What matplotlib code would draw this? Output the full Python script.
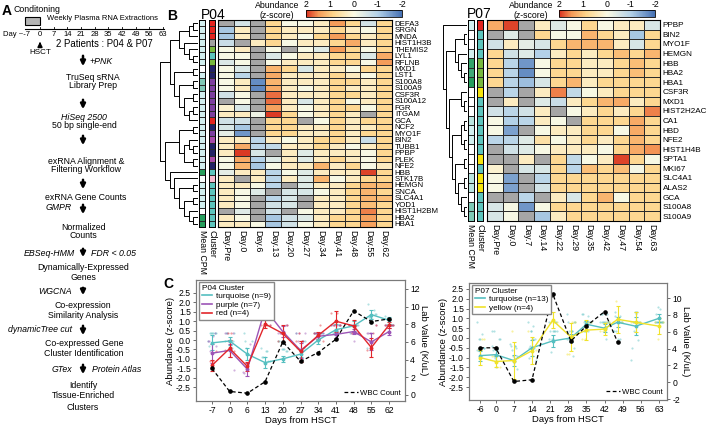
import numpy as np
import matplotlib
matplotlib.use('Agg')
import matplotlib.pyplot as plt
from matplotlib.colors import LinearSegmentedColormap, ListedColormap, Normalize
from matplotlib.cm import ScalarMappable
from matplotlib.lines import Line2D

plt.rcParams['font.family'] = ['Liberation Sans', 'DejaVu Sans']
plt.rcParams['axes.unicode_minus'] = False

nan = np.nan

# ---------------- data: panel B heatmaps ----------------
p04_cols = ['Day.Pre', 'Day.0', 'Day.6', 'Day.13', 'Day.20', 'Day.27',
            'Day.34', 'Day.41', 'Day.48', 'Day.55', 'Day.62']
p04_genes = ['DEFA3', 'SRGN', 'MNDA', 'HIST1H3B', 'THEMIS2', 'LYL1', 'RFLNB',
             'MXD1', 'LST1', 'S100A8', 'S100A9', 'CSF3R', 'S100A12', 'FGR',
             'ITGAM', 'GCA', 'NCF2', 'MYO1F', 'BIN2', 'TUBB1', 'PPBP', 'PLEK',
             'NFE2', 'HBB', 'STK17B', 'HEMGN', 'SNCA', 'SLC4A1', 'YOD1',
             'HIST1H2BM', 'HBA2', 'HBA1']
p04_z = [
    [nan, -0.55, nan, 0.8, -0.05, -0.05, 0.35, 1.45, 0.8, -0.55, 0.8],
    [-1.1, 0.35, nan, 0.8, 0.35, 0.35, 0.35, 0.8, 0.35, -0.05, 0.8],
    [-1.1, 0.35, nan, 0.8, 0.35, -0.05, 0.8, 1.45, 0.8, 0.35, 0.8],
    [-0.7, nan, 0.35, 0.8, -0.05, 0.35, 0.35, 0.8, 1.3, 0.35, 0.8],
    [-0.05, 0.35, nan, -0.05, nan, -0.05, -0.4, 1.45, 0.8, -0.05, 0.8],
    [-0.05, -0.05, nan, -0.45, -0.05, 0.35, 0.35, 0.8, 0.8, -0.45, 1.3],
    [-0.45, -0.05, nan, -0.05, 0.35, 0.35, 0.35, 0.8, 0.8, -0.05, 1.45],
    [-0.05, -0.45, nan, 1.2, 0.8, -0.5, 0.35, 0.35, -0.05, 0.8, 0.8],
    [-0.05, -0.9, nan, 1.3, 0.35, 0.35, 0.35, 0.8, 0.35, -0.05, 0.8],
    [-0.05, 0.35, -1.7, 1.2, 0.35, 0.35, 0.35, 0.8, 0.8, 0.35, 0.8],
    [-0.05, 0.35, -1.75, 1.3, 0.35, -0.05, 0.35, 0.8, 0.35, 0.35, 0.8],
    [-0.6, -0.05, nan, 1.7, 0.35, 0.35, 0.35, 0.8, 0.8, 0.35, 0.8],
    [nan, -0.05, nan, 1.7, 0.35, -0.5, 0.35, 0.8, -0.05, 0.35, 0.8],
    [0.2, -0.5, nan, 1.4, 0.35, -0.05, 0.35, 0.8, 0.8, -0.05, 0.8],
    [0.35, 0.35, -0.2, 1.95, 0.8, -0.05, 0.35, 0.8, 0.35, nan, 0.8],
    [-0.6, -0.6, nan, 0.8, 0.8, nan, -0.05, 0.8, 0.35, 0.8, 0.8],
    [-0.5, -1.1, nan, 0.8, 0.8, 0.35, 0.35, 0.8, 0.35, 0.35, 0.8],
    [-0.3, -1.6, nan, 0.8, 0.8, 0.35, 0.35, 0.8, 0.35, 0.8, 0.8],
    [0.35, 0.35, -0.9, 0.35, -0.05, 0.35, 0.8, 0.8, 0.35, -0.7, 0.8],
    [0.35, 1.3, -0.9, -0.8, 0.35, 0.35, 0.8, 0.35, -0.05, 0.35, 0.8],
    [0.35, 1.95, -0.5, nan, 0.35, -0.4, 0.35, 0.35, 0.35, -0.05, 0.8],
    [-0.05, 1.3, -1.0, -0.4, 0.35, -0.4, 0.35, 0.8, 0.35, -0.05, 0.8],
    [-0.05, 1.2, -1.1, -0.05, 0.35, 0.35, 1.2, 0.35, 0.8, -0.05, 0.35],
    [-0.3, 0.35, 0.35, -0.9, -0.05, -0.4, 0.35, 0.35, 0.35, 1.9, 0.8],
    [0.35, nan, 0.35, -0.9, 0.35, -0.4, 1.2, -0.05, 0.35, 0.8, 0.8],
    [0.35, 0.35, -0.05, -0.9, nan, -0.4, 0.35, 0.35, 0.8, 1.2, 1.1],
    [0.35, -0.05, -0.4, nan, -0.5, -0.5, -0.05, 0.35, 0.8, 1.2, 0.8],
    [0.35, -0.05, nan, -0.9, -0.5, nan, 0.35, 0.35, 0.8, 1.2, 1.1],
    [0.35, -0.05, nan, -0.6, -0.5, nan, 0.35, 0.35, 0.8, 1.1, 0.8],
    [nan, -0.4, nan, -0.6, nan, -0.05, 0.35, 0.35, 0.8, 1.6, 0.8],
    [0.35, -0.05, nan, -1.1, -0.6, -0.4, 0.35, 0.8, 0.8, 1.4, 0.8],
    [0.35, 0.35, -0.05, -1.1, -0.6, -0.05, 0.35, 0.8, 0.8, 1.4, 0.8],
]
p04_cpm = [0.3, 0.3, 0.3, 0.3, 0.3, 0.3, 0.3, 0.0, 0.3, 0.6, 0.6, 0.3, 0.3, 0.3,
           0.3, 0.3, 0.3, 0.3, 0.3, 0.3, 0.3, 0.3, 0.3, 0.95, 0.05, 0.3, 0.3,
           0.3, 0.3, 0.0, 0.95, 0.95]
p04_cluster = ['red', 'red', 'red', 'grey', 'green', 'turquoise', 'green',
               'midnightblue', 'midnightblue', 'purple', 'purple', 'purple',
               'purple', 'purple', 'purple', 'red', 'midnightblue', 'purple',
               'magenta', 'midnightblue', 'midnightblue', 'magenta',
               'midnightblue', 'turquoise', 'pink', 'turquoise', 'turquoise',
               'turquoise', 'turquoise', 'turquoise', 'turquoise', 'turquoise']
p04_tree = (((((0, 1), 2), (3, (4, (5, 6)))),
             ((7, 8), ((9, 10), ((11, 12), ((13, 14), 15))))),
            (((16, 17), ((18, (19, 20)), (21, 22))),
             (23, (24, ((25, 26), ((27, 28), (29, (30, 31))))))))

p07_cols = ['Day.Pre', 'Day.0', 'Day.7', 'Day.14', 'Day.22', 'Day.29',
            'Day.35', 'Day.42', 'Day.47', 'Day.54', 'Day.63']
p07_genes = ['PPBP', 'BIN2', 'MYO1F', 'HEMGN', 'HBB', 'HBA2', 'HBA1', 'CSF3R',
             'MXD1', 'HIST2H2AC', 'CA1', 'HBD', 'NFE2', 'HIST1H4B', 'SPTA1',
             'MKI67', 'SLC4A1', 'ALAS2', 'GCA', 'S100A8', 'S100A9']
p07_z = [
    [1.3, 1.9, nan, 0.35, -0.4, -0.05, 0.8, -0.05, 0.35, 0.35, -0.5],
    [nan, -0.4, nan, 0.8, -0.05, -0.05, 1.2, 0.8, 0.35, -1.1, 0.8],
    [-0.6, 0.35, -0.3, -0.5, 0.8, 1.2, 1.2, 1.2, 0.35, -0.5, 0.8],
    [0.8, -0.6, -0.4, -1.0, 0.35, 0.8, 0.35, 0.8, 1.1, 0.8, 1.2],
    [0.8, -0.9, -1.6, -0.05, 0.8, 0.8, 0.35, 0.35, 0.8, 1.1, 0.8],
    [0.8, -0.9, -1.7, -0.05, 0.8, 0.8, 0.35, 0.35, 0.8, 1.1, 0.8],
    [0.8, -0.9, -1.2, -0.5, 0.8, 1.2, 0.35, 0.8, 0.8, 0.8, 0.8],
    [nan, -0.9, nan, 0.35, 1.6, -0.8, -0.05, 0.35, 0.8, 0.8, 0.8],
    [nan, 0.35, nan, -0.4, -0.7, 0.35, 0.8, 1.2, 1.3, 0.35, 0.8],
    [-0.6, -0.9, -0.6, 0.35, nan, -0.05, 0.35, 0.8, 0.35, 0.8, 1.6],
    [-0.05, -1.0, -0.9, 0.35, -0.05, nan, 0.8, 0.8, 0.8, 1.3, 0.8],
    [-0.05, -1.5, nan, -0.05, 0.35, 0.35, 0.8, 0.8, -0.05, 1.3, 0.8],
    [-0.9, -0.9, -0.4, 0.6, -0.05, 0.35, 0.8, 0.35, 0.8, 1.2, 0.8],
    [nan, -0.6, -0.4, -0.05, 0.35, 0.35, 0.35, -0.05, 0.8, 1.3, 1.5],
    [nan, nan, 0.35, nan, 0.8, -0.8, -0.05, 0.35, 1.9, 0.8, -0.05],
    [0.2, nan, -0.5, -0.5, 0.8, -0.9, 1.1, 0.8, 1.1, -0.1, 0.8],
    [-0.05, -1.5, nan, -0.9, 0.8, 0.8, 0.8, 0.8, 0.8, 0.8, 0.8],
    [-0.05, -1.5, nan, -0.6, 0.8, 0.8, 0.8, 0.8, 0.8, 0.8, 0.8],
    [nan, nan, -0.9, nan, 0.35, -0.5, 0.8, 1.2, -0.05, 0.8, 0.8],
    [-0.5, -0.05, -1.6, -0.05, 0.8, 0.8, 0.8, 0.8, 0.8, 0.8, 0.8],
    [-0.5, -0.05, nan, -1.1, 0.35, 0.8, 0.8, 0.8, 0.8, 0.8, 0.8],
]
p07_cpm = [0.3, 0.0, 0.0, 0.3, 0.9, 0.85, 0.95, 0.0, 0.0, 0.0, 0.4, 0.3, 0.3,
           0.0, 0.0, 0.0, 0.4, 0.4, 0.0, 0.6, 0.6]
p07_cluster = ['red', 'turquoise', 'turquoise', 'turquoise', 'green', 'green',
               'green', 'yellow', 'turquoise', 'turquoise', 'turquoise',
               'turquoise', 'turquoise', 'turquoise', 'yellow', 'turquoise',
               'yellow', 'yellow', 'turquoise', 'turquoise', 'turquoise']
p07_tree = (0, (((1, 2), (3, (4, (5, 6)))),
                ((7, (8, 9)), (((10, 11), (12, 13)),
                               ((14, 15), ((16, 17), (18, (19, 20))))))))

# ---------------- data: panel C trends ----------------
p04_days = ['-7', '0', '6', '13', '20', '27', '34', '41', '48', '55', '62']
p04_series = ['turquoise', 'purple', 'red']
p04_labels = ['turquoise (n=9)', 'purple (n=7)', 'red (n=4)']
p04_mean = {
    'turquoise': [-0.15, -0.05, -0.75, -1.2, -1.0, -0.75, 0.0, 0.55, 0.75, 1.35, 1.05],
    'purple': [-0.7, -0.55, -1.55, 1.65, 0.45, -0.55, 0.2, 0.3, 0.45, -0.1, 0.45],
    'red': [-1.35, -0.45, -1.4, 0.85, 0.35, -0.6, 0.25, 1.0, 0.75, -0.4, 0.8],
}
p04_err = {
    'turquoise': [0.4, 0.2, 0.3, 0.3, 0.15, 0.15, 0.2, 0.3, 0.25, 0.25, 0.2],
    'purple': [0.5, 0.35, 0.35, 0.35, 0.3, 0.4, 0.2, 0.2, 0.15, 0.45, 0.2],
    'red': [0.3, 0.45, 0.25, 0.2, 0.45, 0.55, 0.2, 0.55, 0.3, 0.5, 0.15],
}
p04_wbc = [3.0, 0.4, 0.2, 1.5, 6.0, 3.8, 4.8, 6.3, 9.5, 8.3, 8.6]

p07_days = [-6, 0, 7, 14, 22, 29, 35, 42, 47, 54, 63]
p07_ticks = [-6, 0, 7, 14, 21, 28, 35, 42, 49, 56, 63]
p07_series = ['turquoise', 'yellow']
p07_labels = ['turquoise (n=13)', 'yellow (n=4)']
p07_mean = {
    'turquoise': [-0.9, -0.85, -1.15, -0.5, -0.15, 0.0, 0.7, 0.5, 0.8, 0.6, 1.0],
    'yellow': [-1.0, -1.2, -1.15, -0.65, 0.9, 0.05, 0.4, 0.45, 0.95, 0.8, 0.6],
}
p07_err = {
    'turquoise': [0.25, 0.3, 0.3, 0.4, 0.3, 0.2, 0.15, 0.2, 0.25, 0.45, 0.2],
    'yellow': [0.4, 0.3, 0.95, 0.7, 0.4, 0.7, 0.5, 0.3, 0.7, 0.5, 0.4],
}
p07_wbc_days = [-6, 0, 7, 14, 22, 29, 35, 42, 47]
p07_wbc = [4.1, 4.1, 0.1, 0.3, 10.5, 4.9, 6.7, 8.4, 4.8]

# ---------------- styles ----------------
cluster_colors = {'red': '#e3241f', 'grey': '#a0a0a0', 'green': '#78b83e',
                  'turquoise': '#5dc4bd', 'midnightblue': '#222266',
                  'purple': '#7d3f9f', 'magenta': '#a84aa8', 'pink': '#f6b8cc',
                  'yellow': '#f6e40c'}
line_colors = {'turquoise': '#55bfc0', 'purple': '#9c55b6', 'red': '#e2262b',
               'yellow': '#f0e22a'}
zcmap = LinearSegmentedColormap.from_list(
    'z', [(0, '#4470b4'), (0.25, '#b3d1e8'), (0.5, '#fbfae4'),
          (0.72, '#fdd48a'), (0.87, '#f59a58'), (1, '#d8301f')])
zcmap.set_bad('#a6a6a6')
cpm_cmap = LinearSegmentedColormap.from_list(
    'cpm', ['#ffffff', '#cdeeee', '#6cc0a8', '#1a9850'])
znorm = Normalize(-2, 2)

W, H = 708, 426
fig = plt.figure(figsize=(W / 100, H / 100), dpi=100)


def px_axes(x0, y0, x1, y1):
    return fig.add_axes([x0 / W, 1 - y1 / H, (x1 - x0) / W, (y1 - y0) / H])


# ---------------- panel A ----------------
ax0 = px_axes(0, 0, W, H)
ax0.set_xlim(0, W)
ax0.set_ylim(H, 0)
ax0.axis('off')
fs = 6.3
ax0.text(2, 11, 'A', fontsize=10, fontweight='bold', va='center')
ax0.text(13, 10, 'Conditoning', fontsize=fs, va='center')
ax0.add_patch(plt.Rectangle((25, 17), 15, 8, facecolor='#b5b5b5',
                            edgecolor='k', lw=0.8))
ax0.text(47, 19, 'Weekly Plasma RNA Extractions', fontsize=5.5, va='center')
week_ticks = [0, 7, 14, 21, 28, 35, 42, 49, 56, 63]
ax0.plot([25, 164], [29, 29], color='k', lw=0.8)
for d in week_ticks:
    xp = 40 + d * 123 / 63
    ax0.plot([xp, xp], [27, 29], color='k', lw=0.6)
    ax0.text(xp, 34, str(d), fontsize=5.5, ha='center', va='center')
ax0.text(3, 34, 'Day ~-7', fontsize=5.5, va='center')
ax0.annotate('', xy=(40, 39), xytext=(40, 48),
             arrowprops=dict(arrowstyle='-|>', lw=1.4, color='k', mutation_scale=6))
ax0.text(40, 53, 'HSCT', fontsize=fs - 0.5, ha='center', va='center')
ax0.text(104, 44, '2 Patients : P04 & P07', fontsize=fs + 0.6, ha='center', va='center')

arrows = [(53, 69), (97, 112), (133, 148), (177, 192), (202, 217),
          (246, 260), (285, 298), (323, 338), (362, 377)]
for y0, y1 in arrows:
    ax0.annotate('', xy=(83, y1), xytext=(83, y0),
                 arrowprops=dict(arrowstyle='-|>', lw=1.8, color='k', mutation_scale=7))

steps = [(93, 77, 'TruSeq sRNA'), (93, 86, 'Library Prep'),
         (84, 126, '50 bp single-end'), (86, 161, 'exRNA Alignment &'),
         (86, 170, 'Filtering Workflow'), (86, 198, 'exRNA Gene Counts'),
         (83, 227, 'Normalized'), (83, 236, 'Counts'),
         (83, 267, 'Dynamically-Expressed'), (83, 278, 'Genes'),
         (83, 306, 'Co-expression'), (83, 316, 'Similarity Analysis'),
         (84, 344, 'Co-expressed Gene'), (84, 354, 'Cluster Identification'),
         (83, 386, 'Identify'), (83, 396, 'Tissue-Enriched'), (83, 407, 'Clusters')]
for xc, yc, s in steps:
    ax0.text(xc, yc, s, fontsize=fs, ha='center', va='center')
ax0.text(84, 117, 'HiSeq 2500', fontsize=fs, ha='center', va='center', style='italic')
ax0.text(89, 61, '+PNK', fontsize=fs, va='center', style='italic')
for xr, yc, s in [(72, 207, 'GMPR'), (75, 253, 'EBSeq-HMM'), (72, 292, 'WGCNA'),
                  (72, 330, 'dynamicTree cut'), (72, 369, 'GTex')]:
    ax0.text(xr, yc, s, fontsize=fs, ha='right', va='center', style='italic')
for xl, yc, s in [(91, 253, 'FDR < 0.05'), (92, 369, 'Protein Atlas')]:
    ax0.text(xl, yc, s, fontsize=fs, ha='left', va='center', style='italic')

# ---------------- panel B ----------------
ax0.text(167, 16, 'B', fontsize=10, fontweight='bold', va='center')


def draw_tree(ax, tree, n):
    def walk(node):
        if isinstance(node, int):
            return node + 0.5, 0
        ya, ha = walk(node[0])
        yb, hb = walk(node[1])
        h = max(ha, hb) + 1
        ax.plot([ha, h, h, hb], [ya, ya, yb, yb], color='k', lw=0.7,
                solid_capstyle='butt')
        return (ya + yb) / 2, h
    _, top = walk(tree)
    ax.set_xlim(top + 0.05, 0)
    ax.set_ylim(n, 0)
    ax.axis('off')


def side_column(ax, mesh, cmap, norm, label):
    ax.pcolormesh(mesh, cmap=cmap, norm=norm, edgecolors='#2b2b2b', linewidth=0.5)
    ax.set_ylim(mesh.shape[0], 0)
    ax.set_xlim(0, 1)
    ax.set_yticks([])
    ax.set_xticks([0.5], [label], rotation=270, fontsize=6.3)
    ax.tick_params(length=0, pad=2)
    for s in ax.spines.values():
        s.set_linewidth(0.7)


def heat_block(x_tree, x_cpm, x_clu, x_heat, x_end, y0, y1, z, genes, cols,
               cpm, clusters, tree, gene_fs):
    z = np.array(z, dtype=float)
    n = z.shape[0]
    axd = px_axes(x_tree[0], y0, x_tree[1], y1)
    draw_tree(axd, tree, n)
    axc = px_axes(x_cpm[0], y0, x_cpm[1], y1)
    side_column(axc, np.array(cpm)[:, None], cpm_cmap, Normalize(0, 1), 'Mean CPM')
    names = list(cluster_colors)
    idx = np.array([names.index(c) for c in clusters])[:, None]
    axk = px_axes(x_clu[0], y0, x_clu[1], y1)
    side_column(axk, idx, ListedColormap([cluster_colors[c] for c in names]),
                Normalize(-0.5, len(names) - 0.5), 'Cluster')
    axh = px_axes(x_heat, y0, x_end, y1)
    axh.set_facecolor('#a6a6a6')
    axh.pcolormesh(np.ma.masked_invalid(z), cmap=zcmap, norm=znorm,
                   edgecolors='#2b2b2b', linewidth=0.5)
    axh.set_xlim(0, z.shape[1])
    axh.set_ylim(n, 0)
    axh.set_xticks(np.arange(len(cols)) + 0.5, cols, rotation=270, fontsize=6.3)
    axh.set_yticks(np.arange(n) + 0.5, genes, fontsize=gene_fs)
    axh.yaxis.tick_right()
    axh.tick_params(length=0, pad=2)
    for s in axh.spines.values():
        s.set_linewidth(0.8)


def colorbar_block(x0, x1, y0, y1, xt):
    cax = px_axes(x0, y0, x1, y1)
    cb = fig.colorbar(ScalarMappable(norm=znorm, cmap=zcmap), cax=cax,
                      orientation='horizontal', ticks=[2, 1, 0, -1, -2])
    cax.invert_xaxis()
    cax.xaxis.set_ticks_position('top')
    cax.tick_params(labelsize=6.3, length=0, pad=0.8)
    cb.outline.set_linewidth(0.6)
    ax0.text(xt, 6, 'Abundance', fontsize=6.3, ha='center', va='center')
    ax0.text(xt, 16, '(z-score)', fontsize=6.3, ha='center', va='center')


heat_block((160, 198), (199, 205), (209, 215), 218, 392, 20, 227,
           p04_z, p04_genes, p04_cols, p04_cpm, p04_cluster, p04_tree, 5.7)
ax0.text(201, 15, 'P04', fontsize=10, va='center')
colorbar_block(306, 402, 10, 17, 277)

heat_block((443, 467), (468, 474), (477, 483), 487, 660, 20, 221,
           p07_z, p07_genes, p07_cols, p07_cpm, p07_cluster, p07_tree, 5.9)
ax0.text(467, 14, 'P07', fontsize=10, va='center')
colorbar_block(559, 655, 10, 17, 531)

# ---------------- panel C ----------------
ax0.text(163, 284, 'C', fontsize=10, fontweight='bold', va='center')


def style_axes(ax):
    for s in ax.spines.values():
        s.set_color('#7a7a7a')
        s.set_linewidth(0.8)
    ax.tick_params(labelsize=6.2, length=2.5, width=0.6, color='#555555', pad=1.2)


def trend(box, xs, series, labels, means, errs, z, clusters, spread, ylim,
          wbc_x, wbc, y2lim, y2ticks, title):
    ax = px_axes(*box)
    z = np.array(z, dtype=float)
    for name in series:
        rows = z[[i for i, c in enumerate(clusters) if c == name]]
        offs = np.linspace(-spread, spread, len(rows))
        for off, row in zip(offs, rows):
            ax.scatter(np.array(xs) + off, row, s=2.5, color=line_colors[name],
                       alpha=0.45, lw=0, zorder=1)
        ax.errorbar(xs, means[name], yerr=errs[name], color=line_colors[name],
                    lw=1.0, elinewidth=0.8, capsize=1.6, capthick=0.8,
                    marker='o', ms=1.8, zorder=3)
    ax.set_ylim(*ylim)
    ax.set_yticks(np.arange(-2.5, 2.51, 0.5))
    ax.set_ylabel('Abundance (z-score)', fontsize=6.8, labelpad=0.5)
    ax.set_xlabel('Days from HSCT', fontsize=6.8, labelpad=0.5)
    style_axes(ax)
    ax2 = ax.twinx()
    ax2.plot(wbc_x, wbc, color='k', lw=0.9, ls=(0, (3, 2)), marker='o', ms=2.3,
             zorder=4)
    ax2.set_ylim(*y2lim)
    ax2.set_yticks(y2ticks)
    ax2.set_ylabel('Lab Value (K/uL)', fontsize=6.8, rotation=270, labelpad=6)
    style_axes(ax2)
    handles = [Line2D([], [], color=line_colors[n], lw=1.2) for n in series]
    leg1 = ax2.legend(handles, labels, title=title, loc='upper left',
                      bbox_to_anchor=(-0.005, 1.015), fontsize=5.9,
                      title_fontsize=5.9, handlelength=1.3, handletextpad=0.5,
                      borderpad=0.3, labelspacing=0.1, fancybox=False,
                      edgecolor='#888888', framealpha=1)
    leg1._legend_box.align = 'left'
    ax2.add_artist(leg1)
    ax2.legend([Line2D([], [], color='k', lw=0.9, ls=(0, (3, 2)))], ['WBC Count'],
               loc='lower right', fontsize=5.6, frameon=False, handlelength=1.8,
               handletextpad=0.3, borderaxespad=0.1)
    return ax


axc1 = trend((196, 280, 405, 401), np.arange(len(p04_days)), p04_series,
             p04_labels, p04_mean, p04_err, p04_z, p04_cluster, 0.25,
             (-3.24, 3.19), np.arange(len(p04_days)), p04_wbc, (-0.68, 13.0),
             np.arange(0, 13, 2), 'P04 Cluster')
axc1.set_xticks(np.arange(len(p04_days)), p04_days)
axc1.set_xlim(-0.9, 10.9)

axc2 = trend((469, 283, 667, 400), p07_days, p07_series, p07_labels, p07_mean,
             p07_err, p07_z, p07_cluster, 1.6, (-3.16, 2.8), p07_wbc_days,
             p07_wbc, (-2.1, 11.8), np.arange(-2, 11, 2), 'P07 Cluster')
axc2.set_xticks(p07_ticks, [str(t) for t in p07_ticks])
axc2.set_xlim(-10.3, 66.1)

fig.savefig('out.png', dpi=100)
